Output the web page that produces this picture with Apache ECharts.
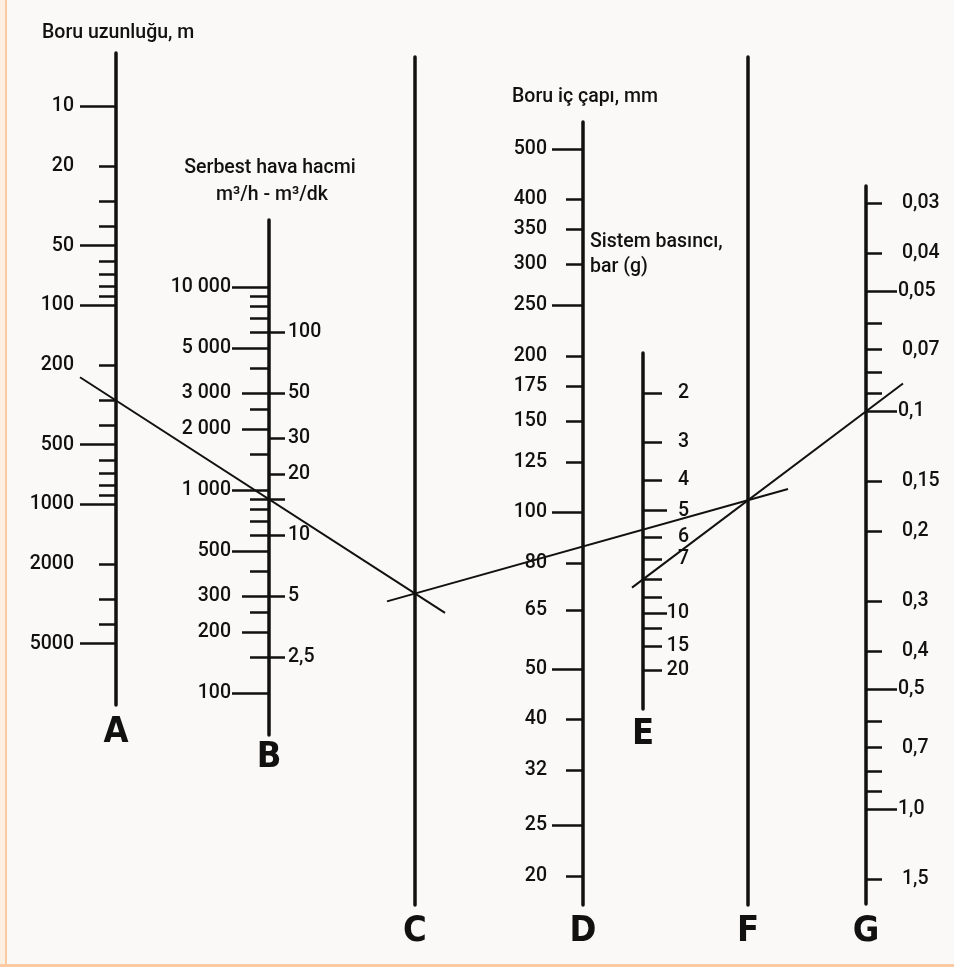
<!DOCTYPE html>
<html>
<head>
<meta charset="utf-8">
<script src="https://cdn.jsdelivr.net/npm/echarts@6/dist/echarts.min.js"></script>
<style>
html,body{margin:0;padding:0;background:#faf9f7;}
#chart{position:absolute;left:0;top:0;width:954px;height:967px;}
.b1{position:absolute;left:0;top:0;width:5px;height:967px;background:#fdefe2;}
.b2{position:absolute;left:5px;top:0;width:2px;height:967px;background:#fbc9a2;}
.b3{position:absolute;left:0;top:964px;width:954px;height:3px;background:#fbc9a2;}
</style>
</head>
<body>
<div id="chart"></div>
<div class="b1"></div><div class="b2"></div><div class="b3"></div>
<script>
// ---------- DATA ----------
// A: Boru uzunluğu, m
const aLabelValues = [10, 20, 50, 100, 200, 500, 1000, 2000, 5000];
const aLabelText   = ['10', '20', '50', '100', '200', '500', '1000', '2000', '5000'];
const aMajorTicks  = [10, 50, 100, 500, 1000, 5000];
const aMinorTicks  = [20, 30, 40, 60, 70, 80, 90, 200, 300, 400, 600, 700, 800, 900, 2000, 3000, 4000];
const aRange = [5.38, 10170];

// B: Serbest hava hacmi, m³/h (left) - m³/dk (right)
const bLeftLabelValues = [100, 200, 300, 500, 1000, 2000, 3000, 5000, 10000];
const bLeftLabelText   = ['100', '200', '300', '500', '1 000', '2 000', '3 000', '5 000', '10 000'];
const bLeftMajorTicks  = [100, 500, 1000, 5000, 10000];
const bLeftMidTicks    = [200, 300, 2000, 3000];
const bLeftMinorTicks  = [150, 250, 400, 600, 700, 800, 900, 1500, 2500, 4000, 6000, 7000, 8000, 9000];
const bRightLabelValues = [2.5, 5, 10, 20, 30, 50, 100];
const bRightLabelText   = ['2,5', '5', '10', '20', '30', '50', '100'];
const bRightTicks       = [2.5, 5, 10, 15, 20, 30, 50, 100];
const bRange = [62.1, 21380];          // m³/h
const minutesPerHour = 60;

// D: Boru iç çapı, mm
const dLabelValues = [20, 25, 32, 40, 50, 65, 80, 100, 125, 150, 175, 200, 250, 300, 350, 400, 500];
const dLabelText   = dLabelValues.map(String);
const dMajorTicks  = [25, 50, 100, 250, 500];
const dMinorTicks  = [20, 32, 40, 65, 80, 125, 150, 175, 200, 300, 350, 400];
const dRange = [17.59, 563.6];

// E: Sistem basıncı, bar (g)
const eLabelValues = [2, 3, 4, 5, 6, 7, 10, 15, 20];
const eLabelText   = ['2', '3', '4', '5', '6', '7', '10', '15', '20'];
const eMajorTicks  = [5, 10];
const eMinorTicks  = [2, 3, 4, 6, 7, 8, 9, 12, 15, 20];
const eRange = [1.365, 31.6];

// G: basınç düşümü, bar
const gLabelValues = [0.03, 0.04, 0.05, 0.07, 0.1, 0.15, 0.2, 0.3, 0.4, 0.5, 0.7, 1.0, 1.5];
const gLabelText   = ['0,03', '0,04', '0,05', '0,07', '0,1', '0,15', '0,2', '0,3', '0,4', '0,5', '0,7', '1,0', '1,5'];
const gMajorTicks  = [0.05, 0.1, 0.5, 1.0];
const gMinorTicks  = [0.03, 0.04, 0.06, 0.07, 0.08, 0.09, 0.15, 0.2, 0.3, 0.4, 0.6, 0.7, 0.8, 0.9, 1.5];
const gRange = [0.02716, 1.729];

// Example reading (solution lines)
const exampleLength   = 300;  // m, on A
const exampleFlow     = 15;   // m³/dk, on B
const examplePressure = 8;    // bar (g), on E
const exampleDrop     = 0.1;  // bar, on G

// ---------- LAYOUT / STYLE ----------
const INK = '#111111';
const FONT = "Roboto, 'Liberation Sans', Arial, sans-serif";
const FW = 500;
const FS = 19.5;
const LETTER_FONT = "'DejaVu Sans Condensed', 'Liberation Sans', sans-serif";
const colX = {A:116, B:269, C:415, D:583, E:643, F:748, G:866};
const colSpan = {A:[53,705], B:[220,735], C:[57,905], D:[122,905], E:[353,709], F:[57,905], G:[186,904]};
const cols = ['A','B','C','D','E','F','G'];

const log10 = Math.log10;
const ident = v => v;
// pressure scale: log of absolute pressure, compressed above 10 bar
const eTf = p => { const k = log10(11); let L = log10(p + 1); return L > k ? k + (L - k) * 0.52 : L; };

const specs = [];
specs.push({col:'A', tf:log10, range:aRange, inverse:true, side:'left', name:'A', nameGap:28,
  labVals:aLabelValues, labText:aLabelText,
  groups:[{ticks:aMajorTicks, len:36, labels:aLabelValues, margin:42}, {ticks:aMinorTicks, len:17}]});
specs.push({col:'B', tf:log10, range:bRange, inverse:false, side:'left', name:'B', nameGap:23,
  labVals:bLeftLabelValues, labText:bLeftLabelText,
  groups:[{ticks:bLeftMajorTicks, len:37, labels:bLeftLabelValues, margin:38}, {ticks:bLeftMidTicks, len:27}, {ticks:bLeftMinorTicks, len:19}]});
specs.push({col:'B', tf:log10, range:bRange.map(v => v / minutesPerHour), inverse:false, side:'right', line:false,
  labVals:bRightLabelValues, labText:bRightLabelText,
  groups:[{ticks:bRightTicks, len:16, labels:bRightLabelValues, margin:19}], key:'Bdk'});
specs.push({col:'C', tf:ident, range:[0,1], inverse:false, side:'left', name:'C', nameGap:27, groups:[]});
specs.push({col:'D', tf:log10, range:dRange, inverse:false, side:'left', name:'D', nameGap:27,
  labVals:dLabelValues, labText:dLabelText,
  groups:[{ticks:dMajorTicks, len:31, labels:dLabelValues, margin:36}, {ticks:dMinorTicks, len:17}]});
specs.push({col:'E', tf:eTf, range:eRange, inverse:true, side:'right', name:'E', nameGap:26,
  labVals:eLabelValues, labText:eLabelText,
  groups:[{ticks:eMajorTicks, len:24, labels:eLabelValues, margin:46, align:'right'}, {ticks:eMinorTicks, len:19}]});
specs.push({col:'F', tf:ident, range:[0,1], inverse:false, side:'left', name:'F', nameGap:27, groups:[]});
specs.push({col:'G', tf:log10, range:gRange, inverse:true, side:'right', name:'G', nameGap:28,
  labVals:gLabelValues, labText:gLabelText,
  groups:[{ticks:gMajorTicks, len:31, labels:gLabelValues.filter(v => gMajorTicks.includes(v)), margin:32},
          {ticks:gMinorTicks, len:16, labels:gLabelValues.filter(v => !gMajorTicks.includes(v)), margin:36}]});

const grids = cols.map(c => ({left:colX[c], top:colSpan[c][0], height:colSpan[c][1]-colSpan[c][0], width:2, outerBoundsMode:'none', containLabel:false}));
grids.push({left:0, top:0, width:954, height:967, outerBoundsMode:'none', containLabel:false});
const OV = grids.length - 1;

const xAxes = grids.map((g, i) => i === OV
  ? {type:'value', gridIndex:i, min:0, max:954, show:false}
  : {type:'value', gridIndex:i, min:0, max:1, show:false});

const yAxes = [];
const axisIndex = {};
specs.forEach(s => {
  const gi = cols.indexOf(s.col);
  const grp = s.groups.length ? s.groups : [{}];
  grp.forEach((g, i) => {
    const labVals = g.labels || [];
    if (i === 0) axisIndex[s.key || s.col] = yAxes.length;
    yAxes.push({
      type:'value', gridIndex:gi, min:s.tf(s.range[0]), max:s.tf(s.range[1]), inverse:!!s.inverse,
      position:'left', splitLine:{show:false}, splitArea:{show:false},
      axisLine:{show: i === 0 && s.line !== false, onZero:false, lineStyle:{color:INK, width:3.5}},
      axisTick:{show: !!g.ticks, customValues:(g.ticks || []).map(s.tf), length:g.len || 0,
        inside: s.side === 'right', lineStyle:{color:INK, width:2.5}},
      axisLabel:{show: labVals.length > 0, customValues: labVals.map(s.tf), inside: s.side === 'right',
        margin: g.margin || 8, align: g.align, verticalAlign:'middle',
        fontSize:FS, fontWeight:FW, fontFamily:FONT, color:INK,
        formatter: v => { const k = (s.labVals || []).findIndex(x => Math.abs(s.tf(x) - v) < 1e-6); return k < 0 ? '' : s.labText[k]; }},
      name: (i === 0 && s.name) ? s.name : '',
      nameLocation: s.inverse ? 'end' : 'start', nameGap: s.nameGap || 0,
      nameTextStyle:{fontFamily:LETTER_FONT, fontWeight:'bold', fontSize:36, color:INK, align:'center', verticalAlign:'middle'}
    });
  });
});
const OVY = yAxes.length;
yAxes.push({type:'value', gridIndex:OV, min:0, max:967, inverse:true, show:false});

const txt = (text, x, y, align) => ({type:'text', x, y, silent:true,
  style:{text, fontSize:FS, fontWeight:FW, fontFamily:FONT, fill:INK, align:align || 'left', verticalAlign:'middle'}});

const option = {
  animation:false,
  backgroundColor:'#faf9f7',
  grid:grids, xAxis:xAxes, yAxis:yAxes,
  graphic:[
    txt('Boru uzunluğu, m', 42, 33),
    txt('Serbest hava hacmi', 270, 168, 'center'),
    txt('m³/h - m³/dk', 272, 195, 'center'),
    txt('Boru iç çapı, mm', 512, 97),
    txt('Sistem basıncı,', 590, 242),
    txt('bar (g)', 590, 267)
  ],
  series:[]
};

const chart = echarts.init(document.getElementById('chart'), null, {renderer:'canvas'});
chart.setOption(option);

// ----- solution lines, located through the scales -----
const yOf = (key, v) => chart.convertToPixel({yAxisIndex: axisIndex[key]}, v);
const at = (p, q, x) => [x, p[1] + (q[1] - p[1]) * (x - p[0]) / (q[0] - p[0])];
const pA = [colX.A, yOf('A', log10(exampleLength))];
const pB = [colX.B, yOf('Bdk', log10(exampleFlow))];
const pE = [colX.E, yOf('E', eTf(examplePressure))];
const pG = [colX.G, yOf('G', log10(exampleDrop))];
const pivotC = at(pA, pB, colX.C);
const pivotF = at(pE, pG, colX.F);
const toOv = p => chart.convertFromPixel({gridIndex: OV}, p);
const segs = [
  [at(pA, pB, colX.A - 36), at(pA, pB, colX.C + 30)],
  [at(pivotC, pivotF, colX.C - 28), at(pivotC, pivotF, colX.F + 40)],
  [at(pE, pG, colX.E - 11), at(pE, pG, colX.G + 37)]
];
chart.setOption({
  series: segs.map(sg => ({
    type:'line', xAxisIndex:OV, yAxisIndex:OVY, data: sg.map(toOv),
    symbol:'none', silent:true, clip:false,
    lineStyle:{color:INK, width:2}
  }))
});
</script>
</body>
</html>
